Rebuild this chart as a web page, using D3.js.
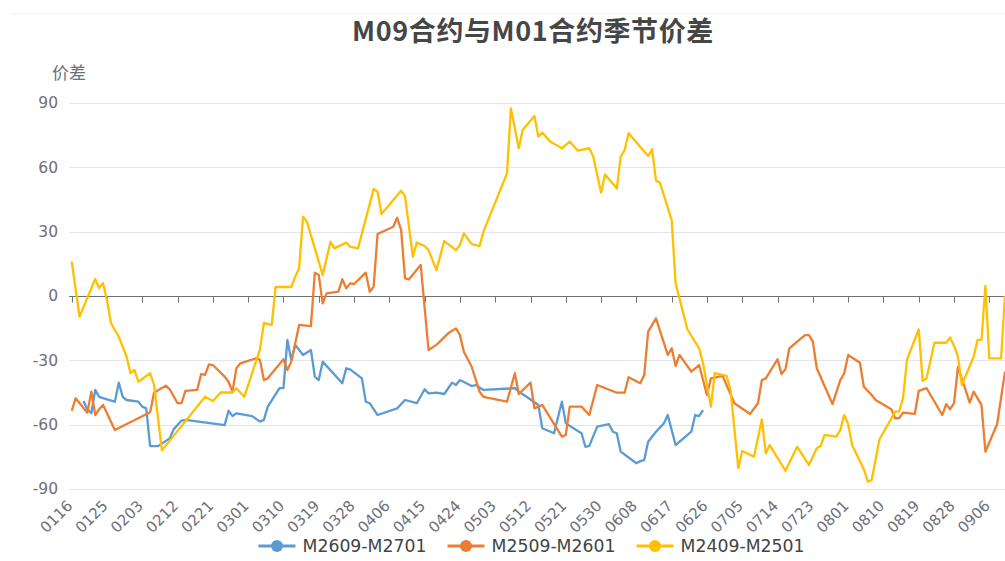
<!DOCTYPE html>
<html>
<head>
<meta charset="utf-8">
<script src="https://cdn.jsdelivr.net/npm/d3@7"></script>
<style>
  html, body { margin: 0; padding: 0; background: #fff; }
  svg { display: block; }
</style>
</head>
<body>
<div id="chart"></div>
<script>
// M09 vs M01 seasonal spread, daily category axis (leap-year calendar)

const chartTitle = "M09合约与M01合约季节价差";
const yName = "价差";
const seriesNames = ["M2609-M2701", "M2509-M2601", "M2409-M2501"];
const seriesColors = ["#5B9BD5", "#ED7D31", "#FFC000"];

const xTickLabels = ["0116","0125","0203","0212","0221","0301","0310","0319","0328",
  "0406","0415","0424","0503","0512","0521","0530","0608","0617","0626",
  "0705","0714","0723","0801","0810","0819","0828","0906"];
const yTicks = [-90, -60, -30, 0, 30, 60, 90];
const firstDay = "0116";
const lastDay = "0910";

// M2609-M2701
const s2609 = [
  ["0119",-49],["0120",-52.8],["0121",-54.7],["0122",-43.8],["0123",-47],["0125",-48.2],
  ["0127",-49.3],["0128",-40.4],["0129",-47],["0130",-48.5],["0202",-49.3],["0203",-51.6],
  ["0204",-52.4],["0205",-70],["0207",-70],["0210",-66.4],["0211",-62.2],["0213",-58.1],
  ["0214",-57.8],["0224",-60.2],["0225",-53.5],["0226",-56],["0227",-54.7],["0302",-56],
  ["0304",-58.6],["0305",-57.8],["0306",-51.6],["0309",-43],["0310",-43],["0311",-20.5],
  ["0312",-30],["0313",-22.8],["0315",-27.5],["0317",-25.2],["0318",-37.6],["0319",-39.2],
  ["0320",-30.6],["0325",-40.7],["0326",-33.7],["0327",-34.2],["0330",-38.4],["0331",-49.3],
  ["0401",-50],["0403",-55.5],["0408",-52.4],["0410",-48.5],["0413",-50],["0415",-43.5],
  ["0416",-45.4],["0418",-45.1],["0420",-45.7],["0422",-40.4],["0423",-41.5],["0424",-39.2],
  ["0427",-42],["0428",-41.5],["0430",-43.8],["0508",-43],["0509",-44.6],["0511",-47],
  ["0514",-50.8],["0515",-61.7],["0518",-64],["0520",-49.3],["0521",-59.4],["0525",-64],
  ["0526",-70.3],["0527",-69.9],["0529",-60.9],["0601",-59.8],["0602",-63.3],["0603",-64],
  ["0604",-72.6],["0608",-78],["0609",-77],["0610",-76.5],["0611",-68],["0613",-63.3],
  ["0615",-59.4],["0616",-55.5],["0618",-69.5],["0622",-63.3],["0623",-55.5],["0624",-56],
  ["0625",-53.2]
];

// M2509-M2601
const s2509 = [
  ["0116",-53.5],["0117",-47.7],["0120",-54.4],["0121",-44.6],["0122",-55.5],["0123",-52.8],
  ["0124",-50.8],["0127",-62.5],["0205",-54.2],["0206",-45.1],["0209",-41.8],["0210",-43.5],
  ["0212",-50],["0213",-50],["0214",-44.2],["0217",-43.8],["0218",-36.4],["0219",-36.8],
  ["0220",-31.9],["0221",-32.2],["0224",-37.6],["0225",-40],["0226",-44.6],["0227",-33.7],
  ["0228",-31.4],["0303",-29.1],["0304",-29.8],["0305",-39.2],["0306",-38.4],["0310",-29.5],
  ["0311",-34.5],["0312",-30.6],["0314",-13.5],["0317",-14],["0318",10.9],["0319",9.8],
  ["0320",-3.4],["0321",1.2],["0324",2],["0325",7.8],["0326",3.6],["0327",5.9],["0328",5.6],
  ["0331",10.9],["0401",2],["0402",4.3],["0403",28.9],["0407",32.3],["0408",36.5],["0409",30.8],
  ["0410",8.2],["0411",7.8],["0414",14.5],["0416",-25.2],["0418",-22.8],["0421",-17.4],
  ["0423",-15.1],["0424",-18.2],["0425",-26],["0427",-33],["0429",-44.6],["0430",-47],
  ["0506",-49.3],["0508",-36],["0509",-45.7],["0512",-40.4],["0513",-52.4],["0515",-50.8],
  ["0520",-65.6],["0521",-64.8],["0522",-51.6],["0525",-51.6],["0527",-55.5],["0529",-41.5],
  ["0603",-45.1],["0605",-45.1],["0606",-37.9],["0609",-40.7],["0610",-36.8],["0611",-16.6],
  ["0613",-10.4],["0616",-27.5],["0617",-24.4],["0618",-32.6],["0619",-27.5],["0622",-35.3],
  ["0624",-32.2],["0626",-46.2],["0627",-38.4],["0630",-37.3],["0703",-50],["0707",-55],
  ["0709",-50],["0710",-39.2],["0711",-38.4],["0714",-29.5],["0715",-36.4],["0716",-34.2],
  ["0717",-24.4],["0719",-21.3],["0721",-18.2],["0722",-18.2],["0723",-21.3],["0724",-33.7],
  ["0728",-50.4],["0730",-39.2],["0731",-36],["0801",-27.5],["0804",-31.1],["0805",-42.3],
  ["0807",-46.2],["0808",-48.5],["0812",-52.8],["0813",-57],["0814",-57],["0815",-54.4],
  ["0818",-55],["0819",-44.2],["0821",-43],["0825",-55.5],["0826",-50.4],["0827",-52.8],
  ["0828",-50],["0829",-33],["0901",-49.7],["0902",-44.6],["0904",-50.8],["0905",-72.6],
  ["0908",-59.7],["0910",-35.3]
];

// M2409-M2501
const s2409 = [
  ["0116",16],["0118",-9.6],["0122",7.9],["0123",3.7],["0124",6],["0125",-2],["0126",-12.6],
  ["0128",-19],["0130",-28.3],["0131",-36],["0201",-34.5],["0202",-40],["0205",-36],
  ["0206",-41.5],["0208",-72],["0219",-47],["0221",-49],["0223",-45],["0226",-45],["0227",-43],
  ["0229",-47],["0304",-25],["0305",-12.6],["0307",-13.5],["0308",4.3],["0312",4.2],["0313",9],
  ["0314",13],["0315",37],["0316",34.6],["0320",9.8],["0322",25.3],["0323",22.2],["0326",24.9],
  ["0327",23],["0329",22.2],["0402",49.9],["0403",48.6],["0404",38.2],["0409",49.1],["0410",46.6],
  ["0412",18.3],["0413",24.9],["0415",23.3],["0416",21.4],["0418",12.1],["0420",25.6],
  ["0423",21.4],["0424",23.8],["0425",29.2],["0427",24.2],["0429",23.3],["0430",30],
  ["0506",57.2],["0507",87.5],["0509",68.9],["0510",77.4],["0513",83.9],["0514",74.3],
  ["0515",76.2],["0517",72],["0520",68.9],["0522",72],["0524",67.8],["0527",68.9],["0528",65],
  ["0530",48.2],["0531",56.7],["0603",50.2],["0604",65],["0605",68],["0606",75.9],["0611",65.3],
  ["0612",68.4],["0613",53.8],["0614",52.8],["0617",35.4],["0618",5.9],["0621",-15.5],
  ["0624",-24.4],["0625",-31.4],["0627",-51.6],["0628",-36],["0701",-37.2],["0702",-43.8],
  ["0704",-80.3],["0705",-72.3],["0708",-74.9],["0710",-57.5],["0711",-73.4],["0712",-69.5],
  ["0716",-81.5],["0719",-70.3],["0722",-78.8],["0724",-71],["0725",-69.9],["0726",-64.8],
  ["0729",-65.6],["0730",-62.5],["0731",-55.5],["0801",-59.7],["0802",-69.5],["0805",-80.8],
  ["0806",-86.6],["0807",-85.8],["0809",-66.8],["0813",-53.9],["0814",-53.9],["0815",-47.7],
  ["0816",-29.8],["0819",-15.5],["0820",-39.6],["0821",-38.4],["0823",-21.8],["0826",-21.8],
  ["0827",-19.3],["0828",-23.3],["0829",-28.3],["0830",-41.5],["0902",-28.3],["0903",-20.5],
  ["0904",-20.5],["0905",4.7],["0906",-29.1],["0909",-29.1],["0910",0]
];

const allSeries = [s2609, s2509, s2409];

var width = 1005;
var height = 561;
var margin = {left: 71.7, right: 0, top: 103, bottom: 72};

function toDate(mmdd) {
  return new Date(Date.UTC(2024, +mmdd.slice(0, 2) - 1, +mmdd.slice(2)));
}

var svg = d3.select("#chart").append("svg")
    .attr("width", width)
    .attr("height", height)
    .style("font-family", "'DejaVu Sans', sans-serif");

svg.append("rect")
  .attr("width", width)
  .attr("height", height)
  .attr("fill", "#fff");

// faint frame line at the top
svg.append("line")
  .attr("x1", 12).attr("x2", width)
  .attr("y1", 13.5).attr("y2", 13.5)
  .attr("stroke", "#f3f3f3");

var x = d3.scaleUtc()
    .domain([toDate(firstDay), toDate(lastDay)])
    .range([margin.left, width - margin.right]);

var y = d3.scaleLinear()
    .domain([-90, 90])
    .range([height - margin.bottom, margin.top]);

// title
svg.append("text")
  .attr("x", 533)
  .attr("y", 41)
  .attr("text-anchor", "middle")
  .attr("font-family", "'Noto Sans CJK SC', sans-serif")
  .attr("font-weight", "bold")
  .attr("font-size", "27px")
  .attr("letter-spacing", "0.6px")
  .attr("fill", "#464646")
  .text(chartTitle);

// y axis name
svg.append("text")
  .attr("x", 69)
  .attr("y", 79)
  .attr("text-anchor", "middle")
  .attr("font-family", "'Noto Sans CJK SC', sans-serif")
  .attr("font-size", "17px")
  .attr("fill", "#6E7079")
  .text(yName);

// grid lines
svg.append("g")
  .selectAll("line")
  .data(yTicks.filter(function(d) { return d !== 0; }))
  .enter().append("line")
    .attr("x1", 69).attr("x2", width)
    .attr("y1", function(d) { return Math.round(y(d)) + 0.5; })
    .attr("y2", function(d) { return Math.round(y(d)) + 0.5; })
    .attr("stroke", "#E0E6F1");

// y tick labels
svg.append("g")
  .selectAll("text")
  .data(yTicks)
  .enter().append("text")
    .attr("x", 58)
    .attr("y", function(d) { return y(d); })
    .attr("dy", "0.35em")
    .attr("text-anchor", "end")
    .attr("font-size", "15.5px")
    .attr("fill", "#6E7079")
    .text(function(d) { return d; });

// x axis on zero
var zeroY = Math.round(y(0)) + 0.5;
svg.append("line")
  .attr("x1", 69).attr("x2", width)
  .attr("y1", zeroY).attr("y2", zeroY)
  .attr("stroke", "#6E7079");

svg.append("g")
  .selectAll("line")
  .data(xTickLabels)
  .enter().append("line")
    .attr("x1", function(d) { return Math.round(x(toDate(d))) + 0.5; })
    .attr("x2", function(d) { return Math.round(x(toDate(d))) + 0.5; })
    .attr("y1", zeroY).attr("y2", zeroY + 6)
    .attr("stroke", "#6E7079");

svg.append("g")
  .selectAll("text")
  .data(xTickLabels)
  .enter().append("text")
    .attr("transform", function(d) {
      return "translate(" + (x(toDate(d)) - 2) + "," + 503 + ") rotate(-45)";
    })
    .attr("text-anchor", "end")
    .attr("dy", "0.35em")
    .attr("font-size", "15px")
    .attr("fill", "#6E7079")
    .text(function(d) { return d; });

// lines
svg.append("clipPath")
  .attr("id", "plot-clip")
  .append("rect")
    .attr("x", 60).attr("y", 60)
    .attr("width", width - 60).attr("height", 460);

var line = d3.line()
    .x(function(d) { return x(toDate(d[0])); })
    .y(function(d) { return y(d[1]); });

svg.append("g")
  .attr("clip-path", "url(#plot-clip)")
  .selectAll("path")
  .data(allSeries)
  .enter().append("path")
    .attr("d", line)
    .attr("fill", "none")
    .attr("stroke", function(d, i) { return seriesColors[i]; })
    .attr("stroke-width", 2.3)
    .attr("stroke-linejoin", "round");

// legend
var legend = svg.append("g").attr("class", "legend");
var items = legend.selectAll("g")
    .data(seriesNames)
    .enter().append("g");

items.append("line")
  .attr("x1", 0).attr("x2", 37)
  .attr("y1", 0).attr("y2", 0)
  .attr("stroke", function(d, i) { return seriesColors[i]; })
  .attr("stroke-width", 3);

items.append("circle")
  .attr("cx", 18.5)
  .attr("r", 6)
  .attr("fill", function(d, i) { return seriesColors[i]; });

items.append("text")
  .attr("x", 44)
  .attr("dy", "0.35em")
  .attr("font-size", "17.3px")
  .attr("fill", "#444")
  .text(function(d) { return d; });

var offsets = [];
var total = 0;
items.each(function(d, i) {
  var w = this.getBBox().width;
  offsets.push(total);
  total += w + (i < seriesNames.length - 1 ? 21 : 0);
});
var startX = 531.5 - total / 2;
items.attr("transform", function(d, i) {
  return "translate(" + (startX + offsets[i]) + ",546)";
});
</script>
</body>
</html>
